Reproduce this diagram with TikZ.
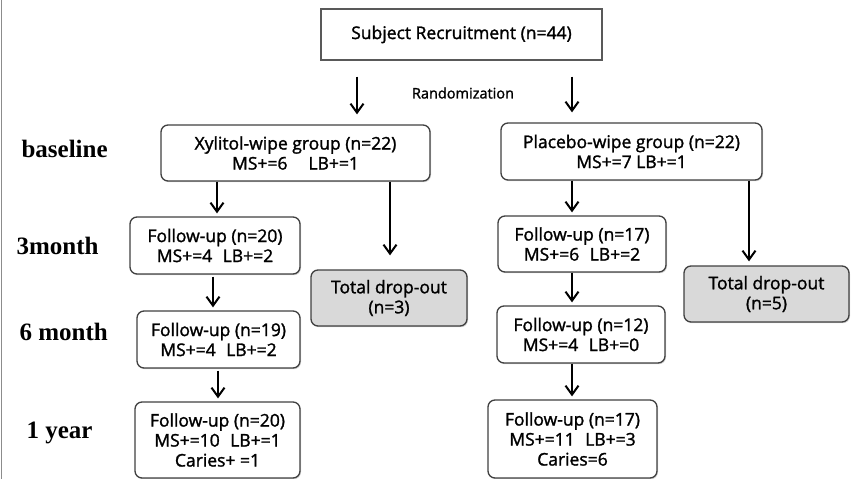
\documentclass[tikz,border=0pt]{standalone}
\usepackage{fontspec}
\newfontfamily\boxfont{Open Sans}[FakeBold=1.5]
\newfontfamily\labfont{Liberation Serif}
\usetikzlibrary{arrows.meta,shadows,calc}
\begin{document}
\begin{tikzpicture}[x=1pt,y=-1pt,
  box/.style={draw=black!75,line width=1.3pt,rounded corners=7pt,fill=white,align=center,
    font=\boxfont\fontsize{17.5}{20}\selectfont,inner sep=0pt,
    drop shadow={opacity=0.35,shadow xshift=1pt,shadow yshift=-1.2pt}},
  sbox/.style={draw=black!65,line width=1.2pt,fill=white,align=center,font=\boxfont\fontsize{17.5}{20}\selectfont,inner sep=0pt},
  dbox/.style={box,fill=black!15},
  arr/.style={line width=2pt,-{Straight Barb[length=9pt,width=13pt,line width=2pt]}},
  lab/.style={anchor=base west,font=\labfont\bfseries\fontsize{25}{28}\selectfont}
]
\useasboundingbox (0,0) rectangle (851,479);
\draw[black!45,line width=1.5pt] (1.5,0) -- (1.5,479);

\node[sbox,minimum width=281pt,minimum height=51pt] (rec) at (461.5,34.5) {Subject Recruitment (n=44)};
\node[font=\boxfont\fontsize{14.5}{16}\selectfont] (rand) at (463,93) {Randomization};

\node[box,minimum width=269pt,minimum height=56pt] (xyl) at (295.5,153) {Xylitol-wipe group (n=22)\\MS+=6\hspace{1.2em}LB+=1};
\node[box,minimum width=261pt,minimum height=57pt] (pla) at (631.5,151.5) {Placebo-wipe group (n=22)\\MS+=7 LB+=1};

\node[box,minimum width=170pt,minimum height=57pt] (x3) at (215,245.5) {Follow-up (n=20)\\MS+=4\hspace{0.6em}LB+=2};
\node[box,minimum width=168pt,minimum height=56pt] (p3) at (582,244) {Follow-up (n=17)\\MS+=6\hspace{0.6em}LB+=2};
\node[dbox,minimum width=156pt,minimum height=56pt] (dx) at (389,298) {Total drop-out\\(n=3)};
\node[dbox,minimum width=165pt,minimum height=56pt] (dp) at (766.5,294) {Total drop-out\\(n=5)};

\node[box,minimum width=163pt,minimum height=57pt] (x6) at (218.5,339.5) {Follow-up (n=19)\\MS+=4\hspace{0.6em}LB+=2};
\node[box,minimum width=168pt,minimum height=57pt] (p6) at (581,334.5) {Follow-up (n=12)\\MS+=4\hspace{0.6em}LB+=0};

\node[box,minimum width=165pt,minimum height=76pt] (x1) at (217.5,440) {Follow-up (n=20)\\MS+=10\hspace{0.6em}LB+=1\\Caries+ =1};
\node[box,minimum width=169pt,minimum height=78pt] (p1) at (572.5,439) {Follow-up (n=17)\\MS+=11\hspace{0.6em}LB+=3\\Caries=6};

\node[lab] (l0) at (18,157) {baseline};
\node[lab] (l1) at (13,254) {3month};
\node[lab] (l2) at (16,340) {6 month};
\node[lab] (l3) at (23,438) {1 year};

% arrows
\draw[arr,shorten <=16pt,shorten >=10pt] (rec.south -| 357,0) -- (xyl.north -| 357,0);
\draw[arr,shorten <=16pt,shorten >=10pt] (rec.south -| 572,0) -- (pla.north -| 572,0);
\draw[arr,shorten >=3pt] (xyl.south -| 217,0) -- (x3.north -| 217,0);
\draw[arr,shorten >=14pt] (xyl.south -| 390,0) -- (dx.north -| 390,0);
\draw[arr,shorten >=3pt] (pla.south -| 572,0) -- (p3.north -| 572,0);
\draw[arr,shorten >=4pt] (pla.south -| 749,0) -- (dp.north -| 749,0);
\draw[arr,shorten <=2pt,shorten >=3pt] (x3.south -| 213,0) -- (x6.north -| 213,0);
\draw[arr,shorten >=3pt] (p3.south -| 572,0) -- (p6.north -| 572,0);
\draw[arr,shorten <=2pt,shorten >=3pt] (x6.south -| 218,0) -- (x1.north -| 218,0);
\draw[arr,shorten >=3pt] (p6.south -| 572,0) -- (p1.north -| 572,0);
\end{tikzpicture}
\end{document}
